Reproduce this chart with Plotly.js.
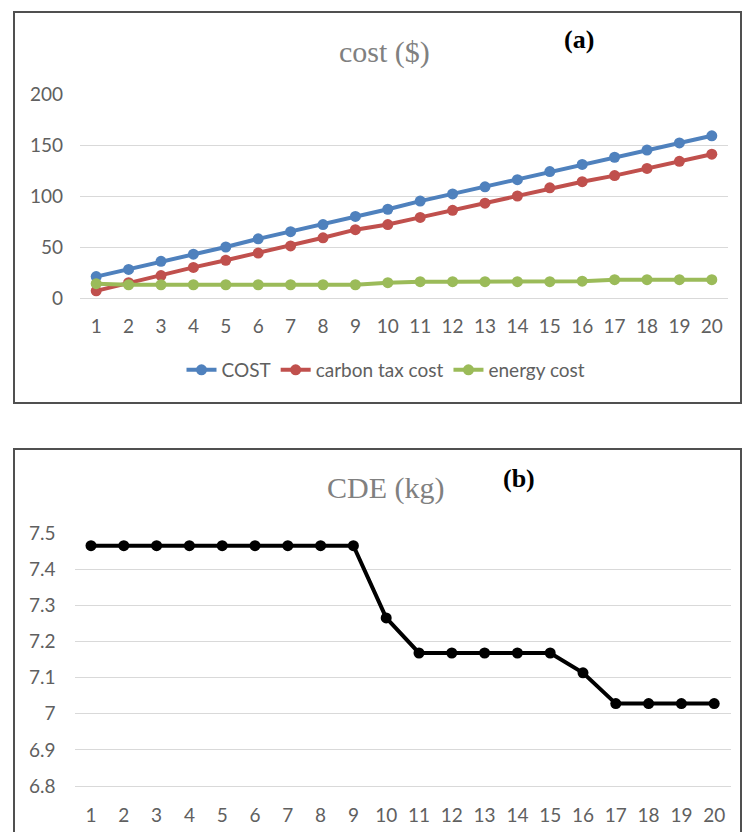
<!DOCTYPE html>
<html>
<head>
<meta charset="utf-8">
<script src="https://cdn.plot.ly/plotly-3.0.1.min.js"></script>
<style>html,body{margin:0;padding:0;background:#fff;}#chart{width:742px;height:832px;}</style>
</head>
<body>
<div id="chart"></div>
<script>
// ---- data ----
var periods = ['1','2','3','4','5','6','7','8','9','10','11','12','13','14','15','16','17','18','19','20'];
var totalCost = [21, 28, 36, 43, 50, 58, 65, 72, 80, 87, 95, 102, 109, 116, 124, 131, 138, 145, 152, 159];
var carbonTaxCost = [7, 15, 22, 30, 37, 44, 51, 59, 67, 72, 79, 86, 93, 100, 108, 114, 120, 127, 134, 141];
var energyCost = [14, 13, 13, 13, 13, 13, 13, 13, 13, 15, 16, 16, 16, 16, 16, 16.5, 18, 18, 18, 18];
var cde = [7.465, 7.465, 7.465, 7.465, 7.465, 7.465, 7.465, 7.465, 7.465, 7.265, 7.168, 7.168, 7.168, 7.168, 7.168, 7.113, 7.028, 7.028, 7.028, 7.028];
var costTicks = [0, 50, 100, 150, 200];
var cdeTicks = [6.8, 6.9, 7, 7.1, 7.2, 7.3, 7.4, 7.5];
var cdeTickText = ['6.8', '6.9', '7', '7.1', '7.2', '7.3', '7.4', '7.5'];

var W = 742, H = 832;
function px(x){ return x / W; }
function py(y){ return (H - y) / H; }

var tickFont = {family: 'Lato, "Open Sans", sans-serif', size: 19, color: '#606060'};
var grid = '#d9d9d9';

var traces = [
  {x: periods, y: totalCost, name: 'COST', type: 'scatter', mode: 'lines+markers',
   line: {color: '#4F81BD', width: 4}, marker: {color: '#4F81BD', size: 11}, xaxis: 'x', yaxis: 'y'},
  {x: periods, y: carbonTaxCost, name: 'carbon tax cost', type: 'scatter', mode: 'lines+markers',
   line: {color: '#C0504D', width: 4}, marker: {color: '#C0504D', size: 11}, xaxis: 'x', yaxis: 'y'},
  {x: periods, y: energyCost, name: 'energy cost', type: 'scatter', mode: 'lines+markers',
   line: {color: '#9BBB59', width: 4}, marker: {color: '#9BBB59', size: 11}, xaxis: 'x', yaxis: 'y'},
  {x: periods, y: cde, name: 'CDE', type: 'scatter', mode: 'lines+markers', showlegend: false,
   line: {color: '#000000', width: 4}, marker: {color: '#000000', size: 11}, xaxis: 'x2', yaxis: 'y2'}
];

var layout = {
  width: W, height: H,
  margin: {l: 0, r: 0, t: 0, b: 0},
  paper_bgcolor: '#ffffff', plot_bgcolor: '#ffffff',
  showlegend: true,
  legend: {orientation: 'h', x: px(386), y: py(370), xanchor: 'center', yanchor: 'middle',
           font: {family: 'Lato, "Open Sans", sans-serif', size: 19, color: '#606060'},
           itemwidth: 30, tracegroupgap: 0, bgcolor: 'rgba(0,0,0,0)'},
  xaxis: {domain: [px(80), px(728)], anchor: 'y', type: 'category', range: [-0.5, 19.5],
          showgrid: false, showline: true, linecolor: grid, linewidth: 1, zeroline: false,
          ticks: '', tickfont: tickFont, ticklabelstandoff: 11, fixedrange: true},
  yaxis: {domain: [py(298), py(94)], anchor: 'x', range: [0, 200], tickvals: costTicks,
          showgrid: true, gridcolor: grid, gridwidth: 1, zeroline: false, showline: false,
          ticks: '', tickfont: tickFont, ticklabelstandoff: 16, fixedrange: true},
  xaxis2: {domain: [px(74.6), px(730.6)], anchor: 'y2', type: 'category', range: [-0.5, 19.5],
           showgrid: false, showline: true, linecolor: grid, linewidth: 1, zeroline: false,
           ticks: '', tickfont: tickFont, ticklabelstandoff: 12, fixedrange: true},
  yaxis2: {domain: [py(786), py(533)], anchor: 'x2', range: [6.8, 7.5], tickvals: cdeTicks, ticktext: cdeTickText,
           showgrid: true, gridcolor: grid, gridwidth: 1, zeroline: false, showline: false,
           ticks: '', tickfont: tickFont, ticklabelstandoff: 18, fixedrange: true},
  shapes: [
    {type: 'rect', xref: 'paper', yref: 'paper', x0: px(14), x1: px(741), y0: py(403), y1: py(12),
     line: {color: '#505050', width: 2}, fillcolor: 'rgba(0,0,0,0)', layer: 'below'},
    {type: 'rect', xref: 'paper', yref: 'paper', x0: px(14), x1: px(741), y0: py(850), y1: py(449),
     line: {color: '#505050', width: 2}, fillcolor: 'rgba(0,0,0,0)', layer: 'below'}
  ],
  annotations: [
    {text: 'cost ($)', xref: 'paper', yref: 'paper', x: px(384), y: py(52), xanchor: 'center', yanchor: 'middle',
     showarrow: false, font: {family: '"Liberation Serif", "DejaVu Serif", serif', size: 30, color: '#808080'}},
    {text: '<b>(a)</b>', xref: 'paper', yref: 'paper', x: px(579), y: py(39), xanchor: 'center', yanchor: 'middle',
     showarrow: false, font: {family: '"Liberation Serif", "DejaVu Serif", serif', size: 26, color: '#000000'}},
    {text: 'CDE (kg)', xref: 'paper', yref: 'paper', x: px(385), y: py(488), xanchor: 'center', yanchor: 'middle',
     showarrow: false, font: {family: '"Liberation Serif", "DejaVu Serif", serif', size: 30, color: '#808080'}},
    {text: '<b>(b)</b>', xref: 'paper', yref: 'paper', x: px(519), y: py(478), xanchor: 'center', yanchor: 'middle',
     showarrow: false, font: {family: '"Liberation Serif", "DejaVu Serif", serif', size: 26, color: '#000000'}}
  ]
};

Plotly.newPlot('chart', traces, layout, {staticPlot: true, displayModeBar: false});
</script>
</body>
</html>
